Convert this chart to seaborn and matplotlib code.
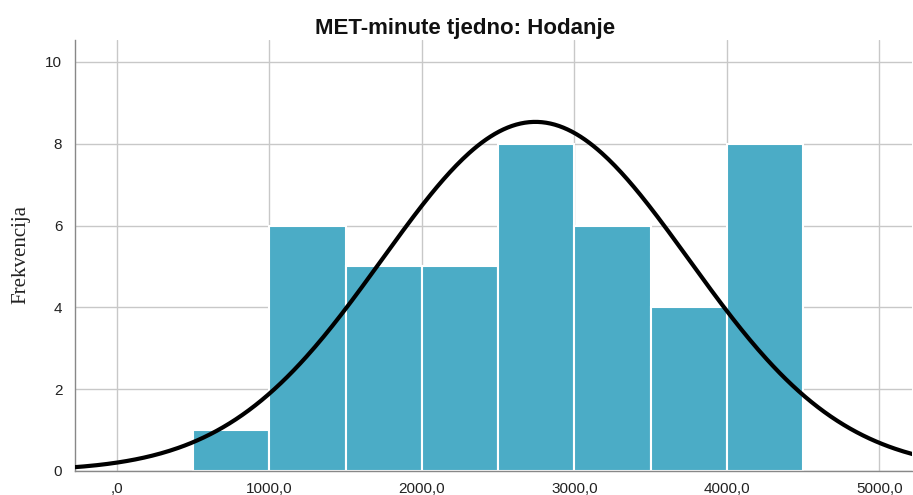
import numpy as np
import pandas as pd
import matplotlib
matplotlib.use("Agg")
import matplotlib.pyplot as plt
import seaborn as sns

# Data
bin_edges = [500, 1000, 1500, 2000, 2500, 3000, 3500, 4000, 4500]
counts = [1, 6, 5, 5, 8, 6, 4, 8]
mean_val = 2745.0
sd_val = 1005.0
n_total = sum(counts)
bin_width = 500
x_ticks = [0, 1000, 2000, 3000, 4000, 5000]
x_tick_labels = [",0", "1000,0", "2000,0", "3000,0", "4000,0", "5000,0"]
y_ticks = [0, 2, 4, 6, 8, 10]

sns.set_style("white")
plt.rcParams['font.family'] = ['Liberation Sans', 'DejaVu Sans']

fig = plt.figure(figsize=(9.13, 4.95), dpi=100)
ax = fig.add_axes([0.082, 0.0485, 0.917, 0.871])

centers = [(bin_edges[i] + bin_edges[i + 1]) / 2 for i in range(len(counts))]
df = pd.DataFrame({"x": centers, "w": counts})
sns.histplot(data=df, x="x", weights="w", bins=bin_edges, ax=ax,
             color="#4BACC6", alpha=1.0, edgecolor="white", linewidth=1.5, zorder=2)

xs = np.linspace(-300, 5300, 400)
ys = n_total * bin_width / (sd_val * np.sqrt(2 * np.pi)) * np.exp(-0.5 * ((xs - mean_val) / sd_val) ** 2)
sns.lineplot(x=xs, y=ys, ax=ax, color="black", linewidth=3, zorder=3)

ax.set_xlim(-275, 5215)
ax.set_ylim(0, 10.54)
ax.set_xticks(x_ticks)
ax.set_xticklabels(x_tick_labels)
ax.set_yticks(y_ticks)
ax.tick_params(axis="both", length=0, labelsize=11, colors="#222222")
ax.tick_params(axis="x", pad=8)
ax.tick_params(axis="y", pad=9)
ax.grid(True, color="#c8c8c8", linewidth=1, zorder=0)
ax.set_axisbelow(True)
for s in ["top", "right"]:
    ax.spines[s].set_visible(False)
for s in ["left", "bottom"]:
    ax.spines[s].set_color("#888888")
    ax.spines[s].set_linewidth(1)

ax.set_xlabel("")
ax.set_ylabel("")
fig.text(21 / 913, 1 - 254 / 495, "Frekvencija", rotation=90, ha="center", va="center",
         family=["Liberation Serif", "DejaVu Serif"], fontsize=15, color="#222222")
fig.text(465 / 913, 1 - 34 / 495, "MET-minute tjedno: Hodanje", ha="center", va="baseline",
         fontsize=16, fontweight="bold", color="#111111")

fig.savefig("out.png", dpi=100)
